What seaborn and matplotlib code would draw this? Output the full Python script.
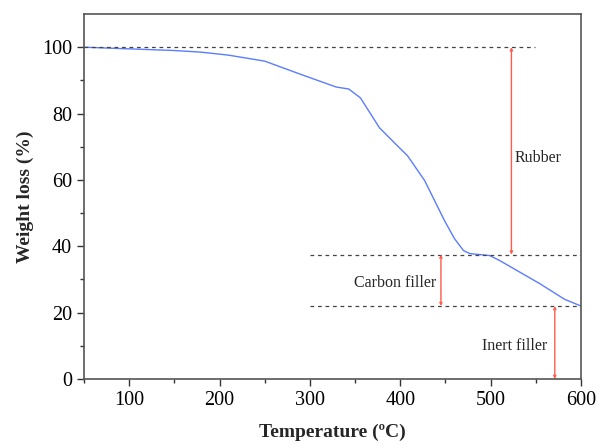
import seaborn as sns
import matplotlib.pyplot as plt
import pandas as pd

# TGA curve
temperature = [50, 100, 150, 180, 210, 250, 289, 329, 343, 356, 377, 399, 408, 427,
               449, 460, 470, 477, 499, 510, 554, 582, 600]
weight = [100, 99.5, 99.0, 98.5, 97.6, 95.8, 91.9, 88.0, 87.4, 84.7, 75.7, 69.7, 67.3,
          59.8, 47.7, 42.3, 38.7, 37.8, 37.2, 35.7, 28.8, 24.0, 22.0]

# reference levels and segments
levels = [100, 37.5, 22]
level_x = [(50, 549), (300, 600), (300, 600)]
segments = ["Rubber", "Carbon filler", "Inert filler"]
seg_x = [523, 445, 571]
seg_y = [(100, 37.5), (37.5, 22), (22, 0)]

df = pd.DataFrame({"T": temperature, "W": weight})

sns.set_style("ticks")
plt.rcParams["font.family"] = ["Liberation Serif", "DejaVu Serif"]

fig = plt.figure(figsize=(5.97, 4.45), dpi=100)
ax = fig.add_axes([0.1407, 0.1483, 0.8325, 0.8202])

sns.lineplot(data=df, x="T", y="W", ax=ax, color="#5b7cff", lw=1)

for lv, (x0, x1) in zip(levels, level_x):
    ax.plot([x0, x1], [lv, lv], ls=(0, (3, 3)), color="#444444", lw=0.9)

for x, (y0, y1) in zip(seg_x, seg_y):
    ax.annotate("", xy=(x, y1), xytext=(x, y0),
                arrowprops=dict(arrowstyle="<->", color="#ff5a4a", lw=1,
                                mutation_scale=4, shrinkA=0, shrinkB=0))

ax.text(527, 66.7, segments[0], fontsize=11.5, va="center", ha="left")
ax.text(440, 29, segments[1], fontsize=11.5, va="center", ha="right")
ax.text(563, 10, segments[2], fontsize=11.5, va="center", ha="right")

ax.set_xlim(50, 600)
ax.set_ylim(0, 110)
ax.set_xticks([100, 200, 300, 400, 500, 600])
ax.set_xticks([50, 150, 250, 350, 450, 550], minor=True)
ax.set_yticks([0, 20, 40, 60, 80, 100])
ax.set_yticks([10, 30, 50, 70, 90], minor=True)
ax.tick_params(axis="both", which="major", labelsize=14.5, length=5, width=1, colors="#333333")
ax.tick_params(axis="both", which="minor", length=3, width=1, colors="#333333")
ax.tick_params(labelcolor="black")
for s in ax.spines.values():
    s.set_color("#555555")
    s.set_linewidth(1.2)

ax.set_xlabel("Temperature (ºC)", fontsize=14, fontweight="bold", labelpad=10)
ax.set_ylabel("Weight loss (%)", fontsize=14, fontweight="bold", labelpad=6)

fig.savefig("out.png", dpi=100)
